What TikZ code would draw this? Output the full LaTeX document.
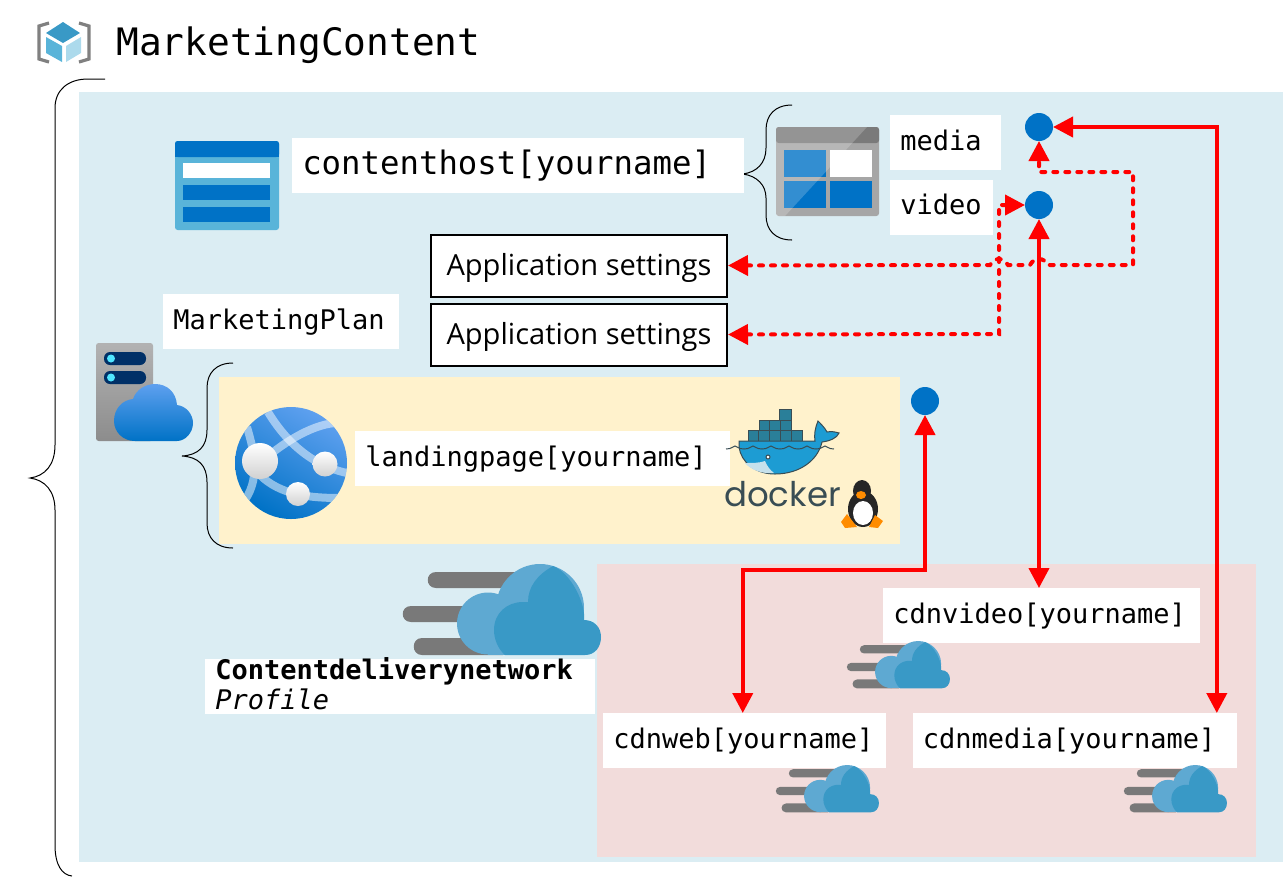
\documentclass[tikz,border=0pt]{standalone}
\usepackage{fontspec}
\setmonofont{DejaVu Sans Mono}
\setsansfont{Open Sans}
\newfontfamily\dockerfont{Poppins}
\usepackage{xcolor}
\usepackage{tikz}
\usetikzlibrary{arrows.meta,positioning}

\definecolor{rgblue}{HTML}{DBEDF3}
\definecolor{appyellow}{HTML}{FFF2CC}
\definecolor{cdnpink}{HTML}{F2DCDB}
\definecolor{azureblue}{HTML}{0072C6}
\definecolor{skyblue}{HTML}{59B4D9}
\definecolor{cloudlight}{HTML}{5EA9D2}
\definecolor{clouddark}{HTML}{3999C6}
\definecolor{cloudtop}{HTML}{5EA0EF}
\definecolor{slate}{HTML}{394D54}
\definecolor{crate}{HTML}{2A7F99}
\definecolor{whale}{HTML}{1D9CD3}
\definecolor{navy}{HTML}{003067}
\definecolor{lamp}{HTML}{50E6FF}

\begin{document}
\begin{tikzpicture}[
  x=0.75pt, y=-0.75pt,
  namebox/.style={fill=white, inner xsep=7.5pt, inner ysep=0pt, minimum height=41.25pt, text height=15.5pt, text depth=4.5pt, align=left, font=\fontsize{20.25}{22.5}\selectfont\ttfamily},
  appbox/.style={draw, line width=1.5pt, fill=white, minimum width=222pt, minimum height=46.5pt, inner sep=0pt, text height=18pt, text depth=3pt, font=\fontsize{21.8}{25}\selectfont\sffamily},
  dot/.style={circle, fill=azureblue, minimum size=21pt, inner sep=0pt, outer sep=0pt},
  link/.style={{Triangle[length=15pt,width=15pt]}-{Triangle[length=15pt,width=15pt]}, line width=3pt, red},
  dashlink/.style={link, line cap=round, dash pattern=on 3pt off 6pt},
  curly/.style={draw=black, line width=0.75pt},
  cdncloud/.pic={
    \fill[gray!95!black] (120,8) -- (33,8) .. controls (22,8) and (22,24) .. (33,24) -- (120,24) -- cycle;
    \fill[gray!95!black] (95,42) -- (8,42) .. controls (-3,42) and (-3,58) .. (8,58) -- (95,58) -- cycle;
    \fill[gray!95!black] (100,74) -- (19,74) .. controls (8,74) and (8,91) .. (19,91) -- (100,91) -- cycle;
    \fill[cloudlight] (85,59.5) circle [radius=31];
    \fill[cloudlight] (137,44) circle [radius=44];
    \fill[cloudlight] (85,50) rectangle (150,91);
    \fill[clouddark] (150,2) .. controls (134,11) and (125,23) .. (125,38) -- (120,38)
      .. controls (104,38) and (91,49) .. (91,66) .. controls (91,75) and (95,85) .. (102,91) -- (182,91)
      .. controls (192,91) and (198,83) .. (198,73) .. controls (198,63) and (191,56) .. (181,56)
      .. controls (183,40) and (168,9) .. (150,2) -- cycle;
  }
]
  \useasboundingbox (0,0) rectangle (1288,876);

  % Regions
  \fill[rgblue] (79,92) rectangle (1283,862);
  \fill[appyellow] (219,377) rectangle (900,544);
  \fill[cdnpink] (597,564) rectangle (1256,857);

  % Braces
  \draw[curly] (105,79) -- (88,79) .. controls (68,79) and (55,90) .. (55,108) -- (55,445)
    .. controls (55,465) and (45,476) .. (30,478) .. controls (45,480) and (55,491) .. (55,510)
    -- (55,845) .. controls (55,865) and (62,875) .. (72,876);
  \draw[curly] (792,105) .. controls (775,105) and (766,115) .. (766,130) -- (766,148)
    .. controls (766,163) and (757,172) .. (743,174) .. controls (757,176) and (766,185) .. (766,198)
    -- (766,215) .. controls (766,230) and (775,240) .. (792,240);
  \draw[curly] (233,363) .. controls (216,363) and (207,373) .. (207,388) -- (207,430)
    .. controls (207,447) and (198,455) .. (182,456) .. controls (198,457) and (207,465) .. (207,482)
    -- (207,523) .. controls (207,538) and (216,548) .. (233,548);

  % Title
  \draw[gray, line width=2.4pt] (49,23) -- (39,26) -- (39,59) -- (49,62);
  \draw[gray, line width=2.4pt] (79,23) -- (89,26) -- (89,59) -- (79,62);
  \fill[clouddark] (63,22) -- (80,33) -- (63,43) -- (46,33) -- cycle;
  \fill[skyblue] (46,37) -- (62,46) -- (62,62) -- (46,53) -- cycle;
  \fill[skyblue!50!white] (66,46) -- (81,37) -- (81,53) -- (66,62) -- cycle;
  \node[anchor=west, inner sep=0pt, yshift=-2.25pt, font=\fontsize{28.35}{30}\selectfont\ttfamily] (title) at (116,42) {MarketingContent};

  % Storage account
  \fill[skyblue, rounded corners=2pt] (175,141) rectangle (279,230);
  \fill[azureblue, rounded corners=2pt] (175,141) rectangle (279,157);
  \fill[azureblue] (175,150) rectangle (279,157);
  \fill[white] (183,163) rectangle (270,178);
  \fill[azureblue] (183,185) rectangle (270,200);
  \fill[azureblue] (183,207) rectangle (270,222);
  \node[namebox, anchor=north west, text width=324pt, text height=18.5pt, text depth=5.5pt, font=\fontsize{24.25}{26}\selectfont\ttfamily] (contenthost) at (292,138) {contenthost[yourname]};

  % Blob containers
  \fill[black!35, rounded corners=2pt] (776,127) rectangle (879,216);
  \fill[black!52, rounded corners=2pt] (776,127) rectangle (879,143);
  \fill[azureblue] (784,150) rectangle (826,177);
  \fill[white] (830,150) rectangle (872,177);
  \fill[azureblue] (784,181) rectangle (826,208);
  \fill[azureblue] (830,181) rectangle (872,208);
  \fill[white, opacity=0.2] (776,127) -- (867,127) -- (785,216) -- (776,216) -- cycle;
  \node[namebox, anchor=north west, text width=68.25pt] (media) at (890,115) {media};
  \node[namebox, below=6.75pt of media.south west, anchor=north west, text width=62.25pt] (video) {video};
  \node[dot] (dotmedia) at (1039,127) {};
  \node[dot] (dotvideo) at (1039,205) {};

  % App settings
  \node[appbox] (appone) at (579,265.5) {Application settings};
  \node[appbox, below=3.75pt of appone] (apptwo) {Application settings};

  % App service plan
  \node[namebox, anchor=north west, text width=162pt] (marketingplan) at (163,294) {MarketingPlan};
  \shade[top color=black!30, bottom color=black!45, rounded corners=2pt] (96,343) rectangle (153,441);
  \fill[navy, rounded corners=4.5pt] (104,352) rectangle (146,365);
  \fill[navy, rounded corners=4.5pt] (104,371) rectangle (146,384);
  \fill[lamp] (111,358.5) circle [radius=4];
  \fill[lamp] (111,377.5) circle [radius=4];
  \shade[top color=cloudtop, bottom color=azureblue] (135,441) .. controls (123,441) and (114,432) .. (114,421)
    .. controls (114,409) and (122,400) .. (133,399) .. controls (136,390) and (145,384) .. (155,384)
    .. controls (167,384) and (176,392) .. (177,405) .. controls (186,406) and (193,414) .. (193,423)
    .. controls (193,433) and (185,441) .. (177,441) -- cycle;

  % Web app
  \begin{scope}
    \clip (291,463) circle [radius=56];
    \shade[top color=cloudtop, bottom color=azureblue, shading angle=-30] (235,407) rectangle (347,519);
    \draw[white, opacity=0.5, line width=6pt] (268,412) .. controls (285,440) and (310,465) .. (347,473);
    \draw[white, opacity=0.5, line width=6pt] (260,463) .. controls (280,445) and (310,425) .. (335,423);
    \draw[white, opacity=0.5, line width=6pt] (247,427) .. controls (252,445) and (262,475) .. (245,500);
    \draw[white, opacity=0.5, line width=6pt] (260,475) .. controls (280,495) and (310,498) .. (340,498);
  \end{scope}
  \shade[top color=white, bottom color=black!18] (260,461) circle [radius=18];
  \shade[top color=white, bottom color=black!18] (325,464) circle [radius=12.5];
  \shade[top color=white, bottom color=black!18] (298,494) circle [radius=12];
  \node[namebox, anchor=north west, text width=266.25pt] (landingpage) at (355,431) {landingpage[yourname]};
  \node[dot] (dotweb) at (925,401) {};

  % Docker and penguin
  \foreach \x in {748,758.8,769.6,780.4,791.2} \filldraw[fill=crate, draw=slate, line width=0.75pt] (\x,430) rectangle ++(10.8,11);
  \foreach \x in {759,769.8,780.6} \filldraw[fill=crate, draw=slate, line width=0.75pt] (\x,420) rectangle ++(10.8,10);
  \filldraw[fill=crate, draw=slate, line width=0.75pt] (779,409) rectangle ++(12,11);
  \filldraw[fill=whale, draw=slate, line width=0.75pt] (739,441) -- (815,441) .. controls (814,435) and (815,428) .. (818,421)
    .. controls (821,424) and (825,428) .. (827,432) .. controls (831,431) and (836,432) .. (839,433)
    .. controls (837,438) and (830,441) .. (822,442) .. controls (818,460) and (800,474) .. (775,474)
    .. controls (755,474) and (741,462) .. (739,447) -- cycle;
  \fill[cyan!20!white!85!gray] (745,463) .. controls (752,463) and (760,463) .. (765,461) .. controls (767,466) and (770,470) .. (774,473)
    .. controls (762,474) and (751,470) .. (745,463) -- cycle;
  \filldraw[fill=white, draw=slate, line width=0.75pt] (768,457) circle [radius=2];
  \foreach \x in {726,744,762,780,798,816} \draw[slate, line width=0.75pt] (\x,449) .. controls (\x+6,449) and (\x+7,446) .. (\x+9,446) .. controls (\x+11,446) and (\x+12,449) .. (\x+18,449);
  \node[inner sep=0pt, text=slate, font=\fontsize{25.5}{28}\selectfont\dockerfont] (docker) at (782.5,494) {docker};
  \fill[black!85] (862,491) ellipse [x radius=9, y radius=11];
  \fill[black!85] (863,509) ellipse [x radius=15, y radius=18];
  \fill[white] (863,513) ellipse [x radius=10, y radius=12];
  \fill[orange!90!yellow] (841,522) -- (847,514) -- (857,527) -- (845,528) -- cycle;
  \fill[orange!90!yellow] (883,521) -- (875,515) -- (869,527) -- (878,528) -- cycle;
  \fill[orange!90!yellow] (861,495) ellipse [x radius=5, y radius=4];

  % CDN profile
  \pic at (403,564) {cdncloud};
  \node[namebox, anchor=north west, text width=277.5pt, text height=12pt, text depth=23pt] (cdnprofile) at (205,659) {\textbf{Contentdeliverynetwork}\\\textit{Profile}};

  % CDN endpoints
  \node[namebox, anchor=north west, text width=222.75pt] (cdnvideo) at (883,588) {cdnvideo[yourname]};
  \node[namebox, anchor=north west, text width=197.25pt] (cdnweb) at (603,713) {cdnweb[yourname]};
  \node[namebox, right=19.5pt of cdnweb, text width=228pt] (cdnmedia) {cdnmedia[yourname]};
  \pic[scale=0.52] at (847,641) {cdncloud};
  \pic[scale=0.52] at (776,765) {cdncloud};
  \pic[scale=0.52] at (1124,765) {cdncloud};

  % Arrows
  \draw[link] (dotmedia) -| ([xshift=106.5pt]cdnmedia.north);
  \draw[link] (dotvideo) -- (dotvideo |- cdnvideo.north);
  \draw[link] (dotweb) -- (925,570) -| ([xshift=-1.5pt]cdnweb.north);
  \draw[dashlink] (appone.east) -- (990,265) .. controls (995,257) and (1003,257) .. (1008,265) -- (1030,265)
    .. controls (1034,257) and (1044,257) .. (1048,265) -- (1133,265) -- (1133,172) -- (1039,172) -- (dotmedia);
  \draw[dashlink] (apptwo.east) -- (999,334) -- (999,205) -- (dotvideo);
\end{tikzpicture}
\end{document}
